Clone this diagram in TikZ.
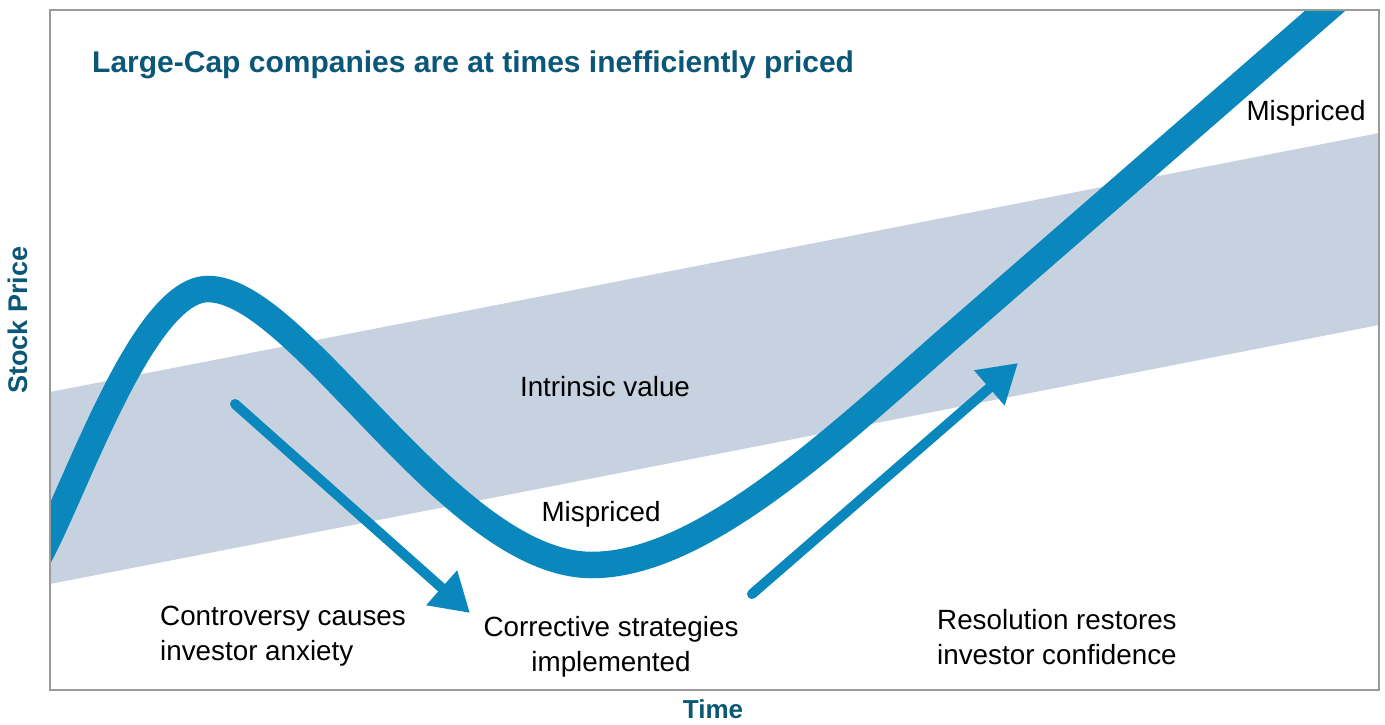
\documentclass[tikz,border=0pt]{standalone}
\usepackage{fontspec}
\setmainfont{Liberation Sans}
\usetikzlibrary{arrows.meta}
\definecolor{curveblue}{HTML}{0A87BD}
\definecolor{bandgray}{HTML}{C6D2E0}
\definecolor{titleteal}{HTML}{0B5777}
\definecolor{framegray}{HTML}{9A9A9A}
\tikzset{
  lbl/.style={inner sep=0pt, text=black, font=\fontsize{27.8}{35}\selectfont},
  axislbl/.style={inner sep=0pt, text=titleteal, font=\bfseries\fontsize{26}{30}\selectfont},
  movearrow/.style={curveblue, line width=10pt, line cap=round, -{Triangle[length=38pt,width=44pt]}},
}
\begin{document}
\begin{tikzpicture}[x=1pt,y=-1pt]
\useasboundingbox (0,0) rectangle (1385,724);
\begin{scope}
  \clip (50,10) rectangle (1379,690);
  \fill[bandgray] (50,392) -- (1379,133) -- (1379,325) -- (50,584) -- cycle;
  \draw[curveblue, line width=26.5pt]
    (20,580) .. controls (50,575) and (130,289) .. (208,289)
    .. controls (300,289) and (450,565) .. (592,565)
    .. controls (700,565) and (830,443) .. (947,340) -- (1372,-30);
\end{scope}
\draw[framegray, line width=1.3pt] (50,10) rectangle (1379,690);

\coordinate (a1s) at (235,404);
\coordinate (a1e) at (470,613);
\coordinate (a2s) at (752,594);
\coordinate (a2e) at (1018,363);
\draw[movearrow] (a1s) -- (a1e);
\draw[movearrow] (a2s) -- (a2e);

\node[anchor=west, inner sep=0pt, text=titleteal, font=\bfseries\fontsize{30}{36}\selectfont] (title) at (92,65) {Large-Cap companies are at times inefficiently priced};
\node[lbl] (mis1) at (1306,113) {Mispriced};
\node[lbl] (iv) at (605,387) {Intrinsic value};
\node[lbl] (mis2) at (601,514) {Mispriced};
\node[lbl, anchor=west, align=left] (contro) at (160,636) {Controversy causes\\investor anxiety};
\node[lbl, align=center] (correct) at (611,647) {Corrective strategies\\implemented};
\node[lbl, anchor=west, align=left] (resol) at (937,637) {Resolution restores\\investor confidence};
\node[axislbl, rotate=90, font=\bfseries\fontsize{27}{30}\selectfont] (ylab) at (18,320) {Stock Price};
\node[axislbl] (xlab) at (713,709) {Time};
\end{tikzpicture}
\end{document}
